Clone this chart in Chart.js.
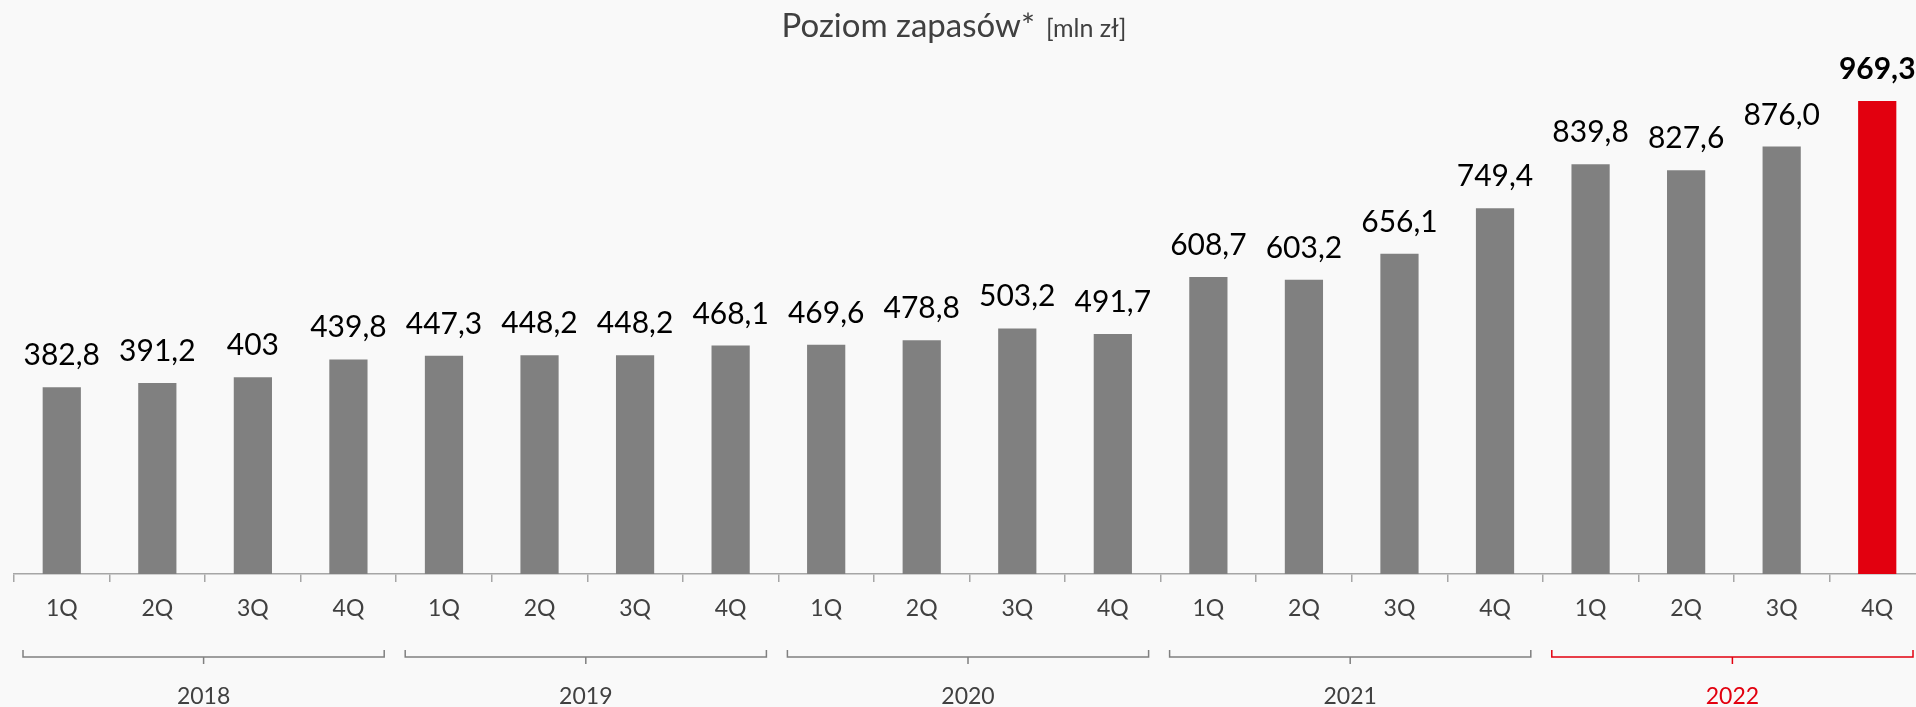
<!DOCTYPE html>
<html>
<head>
<meta charset="utf-8">
<script src="https://cdn.jsdelivr.net/npm/chart.js@4"></script>
<style>
  html, body { margin: 0; padding: 0; background: #f9f9f9; overflow: hidden; }
  #wrap { width: 1926px; height: 707px; }
</style>
</head>
<body>
<div id="wrap"><canvas id="stockChart" width="1926" height="707"></canvas></div>
<script>
// inventory level per quarter, mln zł
const quarters = ['1Q', '2Q', '3Q', '4Q', '1Q', '2Q', '3Q', '4Q', '1Q', '2Q', '3Q', '4Q', '1Q', '2Q', '3Q', '4Q', '1Q', '2Q', '3Q', '4Q'];
const years = ['2018', '2019', '2020', '2021', '2022'];
const stockValues = [382.8, 391.2, 403, 439.8, 447.3, 448.2, 448.2, 468.1, 469.6, 478.8, 503.2, 491.7, 608.7, 603.2, 656.1, 749.4, 839.8, 827.6, 876.0, 969.3];
const valueLabels = ['382,8', '391,2', '403', '439,8', '447,3', '448,2', '448,2', '468,1', '469,6', '478,8', '503,2', '491,7', '608,7', '603,2', '656,1', '749,4', '839,8', '827,6', '876,0', '969,3'];
const highlightIndex = 19;
const highlightYear = '2022';

const GREY = '#808080';
const RED = '#e2000f';
const TEXT = '#404040';
const FONT = 'Lato, "Open Sans", sans-serif';

// title, value labels and year brackets are drawn by hand
const extrasPlugin = {
    id: 'extras',
    afterDraw(chart) {
        const ctx = chart.ctx;
        const x = chart.scales.x;
        const meta = chart.getDatasetMeta(0);

        ctx.save();
        // title
        ctx.fillStyle = TEXT;
        ctx.textBaseline = 'alphabetic';
        ctx.textAlign = 'left';
        ctx.font = '33px ' + FONT;
        const main = 'Poziom zapasów*';
        const wMain = ctx.measureText(main).width;
        ctx.font = '25px ' + FONT;
        const unit = '[mln zł]';
        const wUnit = ctx.measureText(unit).width;
        const tx = 954 - (wMain + 11 + wUnit) / 2;
        ctx.font = '33px ' + FONT;
        ctx.fillText(main, tx, 37);
        ctx.font = '25px ' + FONT;
        ctx.fillText(unit, tx + wMain + 11, 37);

        // value labels above the bars
        ctx.textAlign = 'center';
        meta.data.forEach((bar, i) => {
            ctx.fillStyle = '#000';
            ctx.font = (i === highlightIndex ? 'bold ' : '') + '30px ' + FONT;
            ctx.fillText(valueLabels[i], bar.x, bar.y - 22);
        });

        // year brackets under the quarter labels
        const half = (x.getPixelForValue(1) - x.getPixelForValue(0)) / 2;
        const per = quarters.length / years.length;
        years.forEach((yr, k) => {
            const col = yr === highlightYear ? RED : GREY;
            const x0 = x.getPixelForValue(k * per) - half + 9;
            const x1 = x.getPixelForValue(k * per + per - 1) + half - 12;
            const mid = (x0 + x1) / 2;
            const by = 657;
            ctx.strokeStyle = col;
            ctx.lineWidth = 1.5;
            ctx.beginPath();
            ctx.moveTo(x0, by - 7);
            ctx.lineTo(x0, by);
            ctx.lineTo(x1, by);
            ctx.lineTo(x1, by - 7);
            ctx.moveTo(mid, by);
            ctx.lineTo(mid, by + 7);
            ctx.stroke();

            ctx.fillStyle = yr === highlightYear ? RED : TEXT;
            ctx.font = '23px ' + FONT;
            ctx.fillText(yr, mid, 704);
        });
        ctx.restore();
    }
};

new Chart(document.getElementById('stockChart').getContext('2d'), {
    type: 'bar',
    data: {
        labels: quarters,
        datasets: [{
            data: stockValues,
            backgroundColor: stockValues.map((_, i) => i === highlightIndex ? RED : GREY),
            barPercentage: 0.4,
            categoryPercentage: 1.0
        }]
    },
    options: {
        responsive: false,
        animation: false,
        layout: { padding: { left: 14, right: 1, top: 86, bottom: 0 } },
        plugins: {
            legend: { display: false },
            tooltip: { enabled: false }
        },
        scales: {
            x: {
                afterFit: (scale) => { scale.height = 133; },
                grid: {
                    display: true,
                    offset: true,
                    drawOnChartArea: false,
                    drawTicks: true,
                    tickLength: 8,
                    color: '#a6a6a6',
                    lineWidth: 1.5
                },
                border: { display: true, color: '#a6a6a6', width: 1.5 },
                ticks: {
                    color: TEXT,
                    font: { family: FONT, size: 23 },
                    padding: 13,
                    maxRotation: 0,
                    autoSkip: false
                }
            },
            y: {
                display: false,
                min: 0,
                max: 1000
            }
        }
    },
    plugins: [extrasPlugin]
});
</script>
</body>
</html>
